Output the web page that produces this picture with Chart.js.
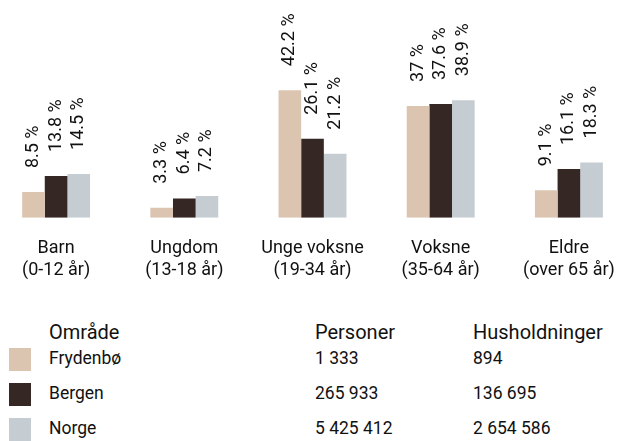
<!DOCTYPE html>
<html lang="no">
<head>
<meta charset="utf-8">
<script src="https://cdn.jsdelivr.net/npm/chart.js@4"></script>
<style>
    html, body { margin: 0; padding: 0; background: #fff; overflow: hidden; }
    body { width: 633px; height: 441px; position: relative; font-family: Roboto, sans-serif; color: #111; }
    #wrap { position: absolute; left: -8px; top: 0; width: 641px; height: 302px; }
    .tbl { position: absolute; white-space: nowrap; }
    .head { font-size: 20px; line-height: 20px; }
    .cell { font-size: 17.5px; line-height: 17.5px; }
    .swatch { position: absolute; width: 22px; height: 23px; }
</style>
</head>
<body>
<div id="wrap"><canvas id="aldersfordeling"></canvas></div>
<div id="tabell"></div>
<script>
    // aldersgrupper og andeler (%)
    const grupper = [
        ['Barn', '(0-12 år)'],
        ['Ungdom', '(13-18 år)'],
        ['Unge voksne', '(19-34 år)'],
        ['Voksne', '(35-64 år)'],
        ['Eldre', '(over 65 år)']
    ];
    const frydenbo = [8.5, 3.3, 42.2, 37, 9.1];
    const bergen = [13.8, 6.4, 26.1, 37.6, 16.1];
    const norge = [14.5, 7.2, 21.2, 38.9, 18.3];

    // tabell under grafen
    const omrader = ['Frydenbø', 'Bergen', 'Norge'];
    const personer = ['1 333', '265 933', '5 425 412'];
    const husholdninger = ['894', '136 695', '2 654 586'];
    const farger = ['#dcc5b0', '#352724', '#c5cdd2'];

    Chart.defaults.font.family = 'Roboto, sans-serif';
    Chart.defaults.color = '#111';

    // prosenttall skrevet loddrett over hver stolpe
    const verdiEtiketter = {
        id: 'verdiEtiketter',
        afterDatasetsDraw(chart) {
            const ctx = chart.ctx;
            ctx.save();
            ctx.font = '18px Roboto, sans-serif';
            ctx.fillStyle = '#111';
            ctx.textAlign = 'left';
            ctx.textBaseline = 'middle';
            chart.data.datasets.forEach((ds, i) => {
                chart.getDatasetMeta(i).data.forEach((bar, j) => {
                    ctx.save();
                    ctx.translate(bar.x, bar.y - 24);
                    ctx.rotate(-Math.PI / 2);
                    ctx.fillText(String(ds.data[j]) + ' %', 0, 0);
                    ctx.restore();
                });
            });
            ctx.restore();
        }
    };

    new Chart(document.getElementById('aldersfordeling'), {
        type: 'bar',
        data: {
            labels: grupper,
            datasets: [
                { label: omrader[0], data: frydenbo, backgroundColor: farger[0] },
                { label: omrader[1], data: bergen, backgroundColor: farger[1] },
                { label: omrader[2], data: norge, backgroundColor: farger[2] }
            ]
        },
        options: {
            responsive: true,
            maintainAspectRatio: false,
            animation: false,
            layout: { padding: { top: 0, left: 0, right: 0, bottom: 9 } },
            datasets: { bar: { categoryPercentage: 0.53, barPercentage: 1, borderWidth: 0 } },
            plugins: { legend: { display: false }, tooltip: { enabled: false } },
            scales: {
                x: {
                    grid: { display: false },
                    border: { display: false },
                    ticks: {
                        maxRotation: 0,
                        autoSkip: false,
                        padding: 12,
                        font: { size: 18, lineHeight: 1.2 },
                        color: '#111'
                    }
                },
                y: { display: false, min: 0, max: 72 }
            }
        },
        plugins: [verdiEtiketter]
    });

    // område / personer / husholdninger
    const tabell = document.getElementById('tabell');
    const leggTil = (tekst, cls, left, top) => {
        const el = document.createElement('div');
        el.className = 'tbl ' + cls;
        el.style.left = left + 'px';
        el.style.top = top + 'px';
        el.textContent = tekst;
        tabell.appendChild(el);
    };
    leggTil('Område', 'head', 49, 322);
    leggTil('Personer', 'head', 315, 322);
    leggTil('Husholdninger', 'head', 473, 322);
    omrader.forEach((navn, i) => {
        const top = 350 + i * 35;
        const sw = document.createElement('div');
        sw.className = 'swatch';
        sw.style.left = '9px';
        sw.style.top = (348 + i * 35) + 'px';
        sw.style.background = farger[i];
        tabell.appendChild(sw);
        leggTil(navn, 'cell', 49, top);
        leggTil(personer[i], 'cell', 315, top);
        leggTil(husholdninger[i], 'cell', 473, top);
    });
</script>
</body>
</html>
